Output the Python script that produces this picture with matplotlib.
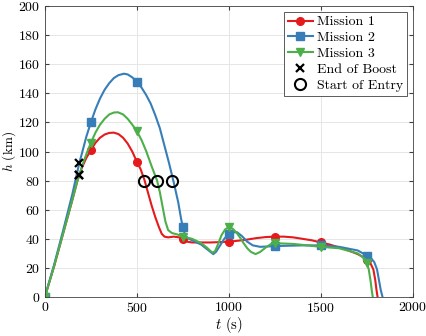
import matplotlib
matplotlib.use("Agg")
import matplotlib.pyplot as plt

plt.rcParams['font.family'] = ['cmr10', 'DejaVu Serif']
plt.rcParams['mathtext.fontset'] = 'cm'
plt.rcParams['axes.formatter.use_mathtext'] = True
plt.rcParams['font.size'] = 10

# mission trajectories (time in s, altitude in km)
t1 = [0, 50, 100, 150, 175, 188, 200, 225, 250, 275, 300, 325, 350, 375, 400, 425, 450, 475,
      500, 520, 540, 560, 580, 600, 620, 635, 650, 670, 700, 730, 750, 775, 800, 900,
      1000, 1050, 1100, 1150, 1200, 1250, 1300, 1350, 1400, 1450, 1500, 1550, 1600, 1650,
      1700, 1730, 1750, 1770, 1785, 1795, 1802, 1808]
h1 = [0, 21, 44, 67, 79, 84, 88.5, 95.5, 101, 106, 109.5, 111.7, 112.8, 113, 112, 109.5, 105.5, 100,
      93, 88, 81, 72, 63, 55, 48, 43.5, 41.5, 41, 41.5, 41, 40, 38, 37.5, 37.5,
      38, 38.7, 39.5, 40.5, 41.2, 41.5, 41.5, 41, 40, 39, 37.5, 36, 34, 32,
      29.5, 27.5, 25.5, 23, 19, 12, 5, 0]

t2 = [0, 50, 100, 150, 187, 200, 225, 250, 275, 300, 325, 350, 375, 400, 430, 450, 475,
      500, 525, 550, 575, 600, 625, 650, 675, 700, 725, 740, 750, 760, 775, 800, 850, 880,
      900, 915, 930, 950, 975, 1000, 1020, 1045, 1070, 1100, 1130, 1170, 1250, 1400, 1500,
      1600, 1700, 1750, 1770, 1790, 1805, 1815, 1825, 1835]
h2 = [0, 22, 46, 71, 92, 98, 110, 120, 129, 136.5, 142.5, 147, 150.5, 152.5, 153.5, 153, 151,
      148, 144, 139, 133, 125, 116, 104, 92, 79, 65, 54, 48, 43.5, 40.5, 39, 36, 33,
      31, 29.5, 31, 35, 40, 43.5, 44.5, 44.5, 42, 38, 35.5, 34.5, 35, 35.5, 35.5,
      34.5, 32, 28.5, 27, 24, 19, 12, 5, 0]

t3 = [0, 50, 100, 150, 175, 188, 200, 225, 250, 275, 300, 325, 350, 375, 397, 425, 450, 475,
      500, 525, 550, 580, 610, 625, 640, 655, 670, 690, 720, 750, 800, 850, 880, 910, 925,
      940, 960, 980, 1000, 1020, 1040, 1060, 1080, 1100, 1120, 1145, 1170, 1200, 1230, 1250,
      1350, 1500, 1600, 1700, 1740, 1750, 1760, 1770, 1777, 1782]
h3 = [0, 21, 44, 67, 79, 84, 89, 98, 106, 113, 118.5, 122.5, 125.5, 126.8, 127, 125.5, 122.5, 118.5,
      114, 108, 100.5, 90, 80, 72, 62, 52, 46, 44, 43, 41.5, 40, 37, 34, 30.5, 31.5,
      36, 42.5, 46.5, 48, 47, 44.5, 41, 37, 33.5, 31, 29.5, 31, 34, 36.5, 37,
      36.5, 34.5, 33.5, 30, 26, 23.5, 19, 11, 4, 0]

# events
boost_t = [188, 187, 188]
boost_h = [84, 92, 84]
entry_t = [540, 692, 610]
entry_h = [80, 80, 80]

marker_times = [0, 250, 500, 750, 1000, 1250, 1500, 1750]

colors = ['#e41a1c', '#377eb8', '#4daf4a']

fig = plt.figure(figsize=(4.27, 3.36), dpi=100)
ax = fig.add_axes([0.105, 0.116, 0.862, 0.866])

series = [(t1, h1, 'o', 'Mission 1'), (t2, h2, 's', 'Mission 2'), (t3, h3, 'v', 'Mission 3')]
for (t, h, m, lab), c in zip(series, colors):
    idx = [i for i, tt in enumerate(t) if tt in marker_times]
    ax.plot(t, h, color=c, lw=1.5, marker=m, markevery=idx, ms=5.5, label=lab)

ax.plot(boost_t, boost_h, 'x', color='k', ms=5.5, mew=1.6, ls='none', label='End of Boost')
ax.plot(entry_t, entry_h, 'o', mfc='none', mec='k', ms=8, mew=1.5, ls='none',
        label='Start of Entry')

ax.set_xlim(0, 2000)
ax.set_ylim(0, 200)
ax.set_xticks([0, 500, 1000, 1500, 2000])
ax.set_yticks(range(0, 201, 20))
ax.grid(True, color='#e6e6e6', lw=0.7)
ax.set_axisbelow(True)
ax.tick_params(direction='in', top=True, right=True, length=3, color='#404040',
               labelsize=10, pad=3)
for s in ax.spines.values():
    s.set_color('#404040')
    s.set_linewidth(0.6)

ax.set_xlabel('$t$ (s)', fontsize=10.5, labelpad=0)
ax.set_ylabel('$h$ (km)', fontsize=9.5)
ax.yaxis.set_label_coords(-0.074, 0.5)

leg = ax.legend(loc='upper right', fancybox=False, edgecolor='#404040', framealpha=1,
                fontsize=10, handlelength=1.8, borderpad=0.3, labelspacing=0.22,
                handletextpad=0.3, borderaxespad=0.4)
leg.get_frame().set_linewidth(0.6)

fig.savefig('out.png', dpi=100)
